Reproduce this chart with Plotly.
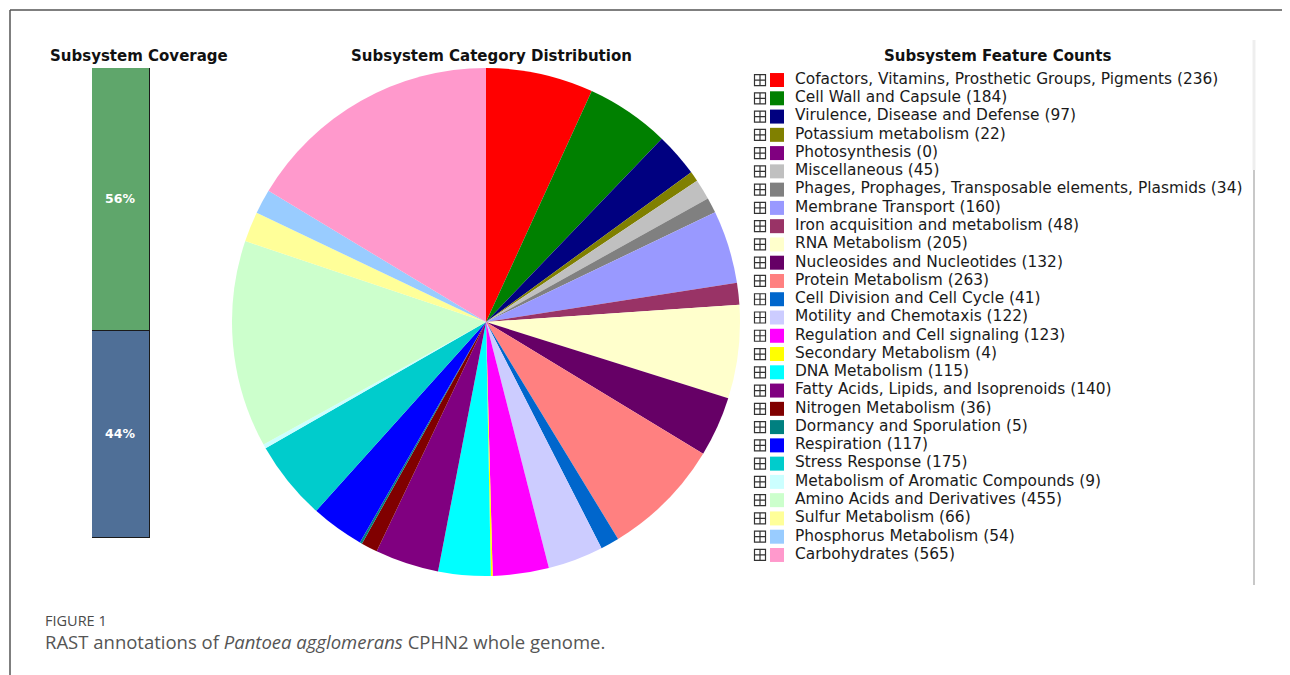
import plotly.graph_objects as go

# ── Data ──
categories = [
    "Cofactors, Vitamins, Prosthetic Groups, Pigments",
    "Cell Wall and Capsule",
    "Virulence, Disease and Defense",
    "Potassium metabolism",
    "Photosynthesis",
    "Miscellaneous",
    "Phages, Prophages, Transposable elements, Plasmids",
    "Membrane Transport",
    "Iron acquisition and metabolism",
    "RNA Metabolism",
    "Nucleosides and Nucleotides",
    "Protein Metabolism",
    "Cell Division and Cell Cycle",
    "Motility and Chemotaxis",
    "Regulation and Cell signaling",
    "Secondary Metabolism",
    "DNA Metabolism",
    "Fatty Acids, Lipids, and Isoprenoids",
    "Nitrogen Metabolism",
    "Dormancy and Sporulation",
    "Respiration",
    "Stress Response",
    "Metabolism of Aromatic Compounds",
    "Amino Acids and Derivatives",
    "Sulfur Metabolism",
    "Phosphorus Metabolism",
    "Carbohydrates",
]
counts = [236, 184, 97, 22, 0, 45, 34, 160, 48, 205, 132, 263, 41, 122,
          123, 4, 115, 140, 36, 5, 117, 175, 9, 455, 66, 54, 565]
colors = [
    "#FF0000", "#008000", "#000080", "#808000", "#800080", "#C0C0C0",
    "#808080", "#9999FF", "#993366", "#FFFFCC", "#660066", "#FF8080",
    "#0066CC", "#CCCCFF", "#FF00FF", "#FFFF00", "#00FFFF", "#800080",
    "#800000", "#008080", "#0000FF", "#00CCCC", "#CCFFFF", "#CCFFCC",
    "#FFFF99", "#99CCFF", "#FF99CC",
]

coverage_labels = ["Not in subsystem", "In subsystem"]
coverage_pct = [44, 56]
coverage_colors = ["#4f6f97", "#5fa66b"]

# page body has an 8px margin, so the figure is a bit smaller than the window
OFF = 8
W, H = 1290 - OFF, 675 - OFF
FONT = "DejaVu Sans"


def px(x):
    """screen x (window pixels) -> paper x"""
    return (x - OFF) / W


def py(y):
    """screen y (window pixels) -> paper y"""
    return 1 - (y - OFF) / H


fig = go.Figure()

# ── Coverage bar (stacked) ──
for lab, pct, col in zip(coverage_labels, coverage_pct, coverage_colors):
    fig.add_trace(go.Bar(
        x=["Coverage"], y=[pct], name=lab,
        marker=dict(color=col, line=dict(color="#1a1a1a", width=1.5)),
        text=[f"{pct}%"], textposition="inside", insidetextanchor="middle",
        textfont=dict(color="white", size=12.5, family=FONT),
        texttemplate="<b>%{text}</b>",
        showlegend=False, xaxis="x", yaxis="y",
    ))

# ── Pie ──
fig.add_trace(go.Pie(
    labels=categories, values=counts,
    marker=dict(colors=colors, line=dict(width=0)),
    sort=False, direction="clockwise", rotation=0,
    textinfo="none", showlegend=False,
    domain=dict(x=[px(232), px(740)], y=[py(577), py(67)]),
))

# ── Custom legend ──
rows = list(range(len(categories)))
fig.add_trace(go.Scatter(
    x=[760] * len(rows), y=rows, mode="markers",
    marker=dict(symbol="square-cross-open", size=11, color="#333333",
                line=dict(width=1.2)),
    hoverinfo="skip", showlegend=False, xaxis="x2", yaxis="y2",
))
fig.add_trace(go.Scatter(
    x=[777] * len(rows), y=rows, mode="markers",
    marker=dict(symbol="square", size=14, color=colors, line=dict(width=0)),
    hoverinfo="skip", showlegend=False, xaxis="x2", yaxis="y2",
))
fig.add_trace(go.Scatter(
    x=[795] * len(rows), y=rows, mode="text",
    text=[f"{c} ({n})" for c, n in zip(categories, counts)],
    textposition="middle right",
    textfont=dict(family=FONT, size=15.4, color="#1a1a1a"),
    hoverinfo="skip", showlegend=False, xaxis="x2", yaxis="y2",
))

# ── Titles & caption ──
title_font = dict(family=FONT, size=15, color="#111111")
annotations = [
    dict(x=px(139), y=py(56), text="<b>Subsystem Coverage</b>"),
    dict(x=px(491), y=py(56), text="<b>Subsystem Category Distribution</b>"),
    dict(x=px(997), y=py(56), text="<b>Subsystem Feature Counts</b>"),
]
for a in annotations:
    a.update(xref="paper", yref="paper", showarrow=False, font=title_font,
             xanchor="center", yanchor="middle")

annotations += [
    dict(x=px(43), y=py(620), text="FIGURE 1", xref="paper", yref="paper",
         showarrow=False, xanchor="left", yanchor="middle",
         font=dict(family="Open Sans", size=14.5, color="#4a4a4a")),
    dict(x=px(43), y=py(641),
         text="RAST annotations of <i>Pantoea agglomerans</i> CPHN2 whole genome.",
         xref="paper", yref="paper", showarrow=False, xanchor="left",
         yanchor="middle",
         font=dict(family="Open Sans", size=18.5, color="#555555")),
]

shapes = [
    # figure frame
    dict(type="line", xref="paper", yref="paper", x0=px(10), x1=1,
         y0=py(10), y1=py(10), line=dict(color="#555555", width=1.5)),
    dict(type="line", xref="paper", yref="paper", x0=px(10), x1=px(10),
         y0=py(10), y1=0, line=dict(color="#555555", width=1.5)),
    # scrollbar of the legend panel
    dict(type="line", xref="paper", yref="paper", x0=px(1254), x1=px(1254),
         y0=py(40), y1=py(170), line=dict(color="#eeeeee", width=3)),
    dict(type="line", xref="paper", yref="paper", x0=px(1254), x1=px(1254),
         y0=py(170), y1=py(585), line=dict(color="#c8c8c8", width=2)),
]

fig.update_layout(
    width=W, height=H,
    paper_bgcolor="white", plot_bgcolor="rgba(0,0,0,0)",
    margin=dict(l=0, r=0, t=0, b=0),
    barmode="stack", bargap=0,
    xaxis=dict(domain=[px(92), px(150)], visible=False, range=[-0.5, 0.5],
               fixedrange=True),
    yaxis=dict(domain=[py(538), py(68)], visible=False, range=[0, 100],
               fixedrange=True),
    xaxis2=dict(domain=[0, 1], range=[OFF, OFF + W], visible=False,
                fixedrange=True),
    yaxis2=dict(domain=[py(564.1), py(70.9)], range=[len(rows) - 0.5, -0.5],
                visible=False, fixedrange=True),
    annotations=annotations,
    shapes=shapes,
    hovermode="closest",
)

fig.write_html("out.html")
